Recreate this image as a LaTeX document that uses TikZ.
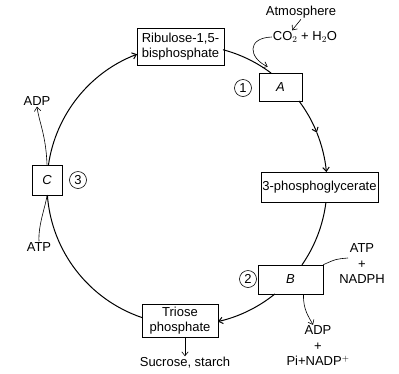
\documentclass[tikz,border=0pt]{standalone}
\usepackage{fontspec}
\setmainfont{Liberation Sans}
\usetikzlibrary{arrows.meta, calc}
\newcommand{\lblfont}{\fontsize{13}{15.5}\selectfont}
\tikzset{
  >={Straight Barb[length=4pt, width=6.5pt]},
  box/.style    = {draw, line width=0.6pt, fill=white, align=center,
                   inner sep=1pt, font=\lblfont},
  num/.style    = {draw, circle, line width=0.6pt, minimum size=17pt,
                   inner sep=0pt, font=\lblfont},
  lbl/.style    = {align=center, inner sep=1pt, font=\lblfont},
  cyc/.style    = {line width=1pt},
  side/.style   = {line width=0.6pt},
}

\begin{document}
\begin{tikzpicture}[x=1pt, y=-1pt]
  \useasboundingbox (0,0) rectangle (399,373);

  % =====================================================================
  % boxes of the cycle
  % =====================================================================
  \coordinate (o) at (187,185);
  \node[box, minimum width=87pt,  minimum height=37pt] (rub) at (180.5,46.5) {Ribulose-1,5-\\bisphosphate};
  \node[box, minimum width=43pt,  minimum height=28pt] (A)   at (280.5,87)   {\textit{A}};
  \node[box, minimum width=117pt, minimum height=30pt] (pga) at (319.5,187)  {3-phosphoglycerate};
  \node[box, minimum width=65pt,  minimum height=29pt] (B)   at (290.5,279.5){\textit{B}};
  \node[box, minimum width=76pt,  minimum height=33pt] (tri) at (180,320.5)  {Triose\\phosphate};
  \node[box, minimum width=30pt,  minimum height=30pt] (C)   at (47,180)     {\textit{C}};

  \node[num] (n1) at (243,88)  {1};
  \node[num] (n2) at (248,279) {2};
  \node[num] (n3) at (78,180)  {3};

  % circle pieces between the boxes (angles where the circle meets them)
  \foreach \a/\b/\tip in {188.2/249.1/->, 284.9/306.9/-, 323.1/338/->,
                          338/354.7/->, 7/34.8/-, 51.1/77.2/->, 108.7/175.9/-}
    \draw[cyc, \tip] ($(o)+(\a:140)$) arc[start angle=\a, end angle=\b, radius=140];

  % =====================================================================
  % inputs and outputs
  % =====================================================================
  \node[lbl] (atm) at (301,12)  {Atmosphere};
  \node[lbl] (co2) at (305,37)  {CO$_2$ + H$_2$O};
  \draw[side, ->] (atm.south) -- ([xshift=-13]co2.north);
  \coordinate (a_in) at ([shift={(9,-6)}]A.north west);
  \draw[side, ->] (co2.west) .. controls (246,38) and (249,58) .. (a_in);

  \node[lbl] (adp1) at (37,101) {ADP};
  \node[lbl] (atp1) at (39,247) {ATP};
  \draw[side, ->] (C.north) .. controls (46,135) and (39,122) .. (adp1.south);
  \draw[side] (atp1.north) .. controls (38,225) and (46,205) .. (C.south);

  \node[lbl] (atpn) at (362,264) {ATP\\+\\NADPH};
  \coordinate (b_in) at ([shift={(-14,-6)}]atpn.center);
  \draw[side] (b_in) .. controls (336,259) .. (B.north east);

  \node[lbl] (prod) at (318,346) {ADP\\+\\Pi+NADP$^+$};
  \draw[side, ->] ([xshift=13]B.south) .. controls (303,310) and (309,317) .. ([xshift=-5]prod.north);

  \node[lbl] (suc) at (185,363) {Sucrose, starch};
  \draw[side, ->] (suc.north |- tri.south) -- (suc.north);

\end{tikzpicture}
\end{document}
